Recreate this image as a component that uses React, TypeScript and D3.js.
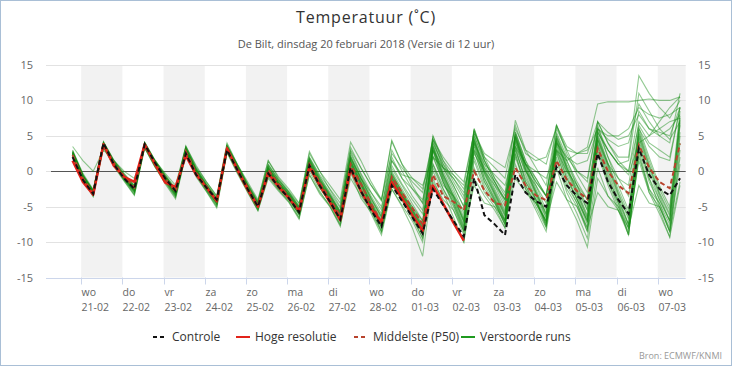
import React, { useRef, useEffect } from "react";
import * as d3 from "d3";

// x-axis labels, one per day starting 21-02
const weekdays = ["wo", "do", "vr", "za", "zo", "ma", "di", "wo", "do", "vr", "za", "zo", "ma", "di", "wo"];
const dates = ["21-02", "22-02", "23-02", "24-02", "25-02", "26-02", "27-02", "28-02", "01-03", "02-03", "03-03", "04-03", "05-03", "06-03", "07-03"];
const yTicks = [-15, -10, -5, 0, 5, 10, 15];

// hours after 21-02 00:00, every 6 hours from 20-02 19:00 up to 07-03 13:00
const hours = d3.range(60).map((i) => -5 + i * 6);

const control = [2.0, -1.2, -3.2, 4.0, 1.0, -1.0, -2.5, 3.8, 1.2, -1.0, -2.8, 2.5, -0.5, -2.3, -4.0, 3.0, 0.2, -2.5, -5.0, -0.3, -2.2, -3.8, -5.8, 0.8, -2.0, -4.3, -6.8, 0.5, -2.8, -5.5, -7.8, -2.0, -4.2, -6.5, -8.8, -2.5, -4.8, -7.0, -9.2, -1.0, -6.2, -7.5, -9.0, -0.5, -3.0, -4.2, -5.0, 0.6, -2.0, -3.5, -4.5, 2.5, -1.5, -4.0, -6.0, 3.2, -0.5, -2.5, -3.4, -1.0];
const hres = [1.5, -1.5, -3.3, 3.8, 0.8, -0.8, -1.5, 3.8, 1.0, -1.6, -2.2, 2.2, -0.5, -2.3, -4.2, 3.2, 0.2, -2.6, -5.0, -0.3, -2.2, -3.8, -5.6, 0.6, -2.0, -4.4, -6.9, 0.3, -2.8, -5.3, -7.2, -1.5, -3.8, -6.2, -8.4, -2.0, -4.6, -7.3, -9.8];
const median = [2.3, -1.0, -3.1, 3.8, 1.2, -0.7, -2.3, 3.7, 1.1, -1.0, -2.9, 2.8, -0.2, -2.2, -4.2, 3.2, 0.4, -2.3, -4.9, 0.2, -1.8, -3.6, -5.6, 1.0, -1.6, -3.9, -6.3, 1.0, -1.8, -4.6, -7.2, -0.8, -3.0, -5.2, -7.5, -0.5, -3.5, -4.3, -5.5, 0.0, -2.7, -4.5, -4.8, 0.5, -2.0, -3.4, -4.1, 1.5, -1.2, -2.8, -3.9, 3.2, 0.0, -2.0, -3.1, 3.7, 0.5, -1.5, -2.4, 3.9];

// perturbed runs
const m01 = [2.5, -0.8, -3.0, 3.8, 1.2, -0.8, -2.5, 3.8, 1.2, -1.0, -3.0, 3.0, 0.0, -2.2, -4.2, 3.3, 0.5, -2.3, -4.8, 0.3, -1.8, -3.5, -5.5, 1.2, -1.5, -3.8, -6.2, 1.5, -1.5, -4.5, -7.2, -0.5, -3.0, -5.5, -8.0, 3.5, -0.5, -3.5, -7.0, 4.5, 0.0, -3.0, -6.0, 5.0, 0.5, -3.0, -6.5, 4.5, 0.5, -3.0, -6.5, 5.0, 1.0, -3.0, -6.5, 5.5, 1.0, -3.0, -6.0, 7.5];
const m02 = [2.9, -0.5, -2.7, 4.1, 1.5, -0.4, -2.0, 4.0, 1.5, -0.6, -2.6, 3.4, 0.4, -1.8, -3.8, 3.6, 0.9, -1.9, -4.4, 0.8, -1.3, -3.0, -5.0, 1.8, -0.8, -3.2, -5.6, 2.2, -0.8, -3.8, -6.5, 0.4, -2.0, -4.6, -7.0, 4.2, 0.5, -2.5, -6.0, 5.2, 1.0, -2.0, -5.0, 5.6, 1.5, -2.0, -5.5, 5.2, 1.5, -2.0, -5.5, 5.8, 2.0, -2.0, -5.5, 6.2, 2.0, -2.0, -5.0, 8.5];
const m03 = [2.1, -1.1, -3.4, 3.5, 0.9, -1.2, -3.0, 3.5, 0.8, -1.4, -3.5, 2.6, -0.4, -2.6, -4.7, 2.9, 0.1, -2.7, -5.3, -0.3, -2.3, -4.0, -6.1, 0.6, -2.2, -4.5, -6.9, 0.8, -2.3, -5.2, -8.0, -1.2, -3.8, -6.3, -8.8, 2.8, -1.5, -4.5, -8.0, 3.8, -1.0, -4.0, -7.0, 4.2, -0.5, -4.0, -7.5, 3.8, -0.5, -4.0, -7.5, 4.4, 0.0, -4.0, -7.5, 4.8, 0.0, -4.0, -7.0, 6.5];
const m04 = [2.7, -0.6, -2.9, 3.9, 1.3, -0.7, -2.3, 3.9, 1.4, -0.8, -2.8, 3.2, 0.2, -2.0, -4.0, 3.5, 0.7, -2.0, -4.5, 0.5, -1.5, -3.2, -5.2, 1.5, -1.2, -3.5, -5.8, 2.0, -1.0, -4.0, -6.5, 1.5, -1.0, -2.5, -4.0, 3.0, 0.5, -1.0, -3.0, 4.0, 1.0, -0.5, -2.0, 3.5, 1.0, 0.0, -1.0, 3.0, 1.5, 2.5, 3.4, 9.5, 9.8, 9.8, 9.8, 10.0, 10.2, 10.0, 10.0, 10.5];
const m05 = [2.4, -0.9, -3.1, 3.7, 1.1, -0.9, -2.6, 3.7, 1.1, -1.1, -3.1, 2.9, -0.1, -2.3, -4.3, 3.2, 0.4, -2.4, -4.9, 0.2, -1.9, -3.6, -5.6, 1.0, -1.6, -4.0, -6.4, 1.2, -1.8, -4.8, -7.5, -1.0, -3.5, -5.0, -7.0, 1.0, -2.0, -3.5, -5.5, 2.5, 0.0, -2.0, -4.0, 4.0, 1.0, -1.5, -3.5, 5.5, 2.0, 0.0, -1.0, 7.0, 4.0, 2.0, 2.0, 13.5, 11.0, 9.0, 7.5, 10.0];
const m06 = [2.3, -1.0, -3.3, 3.6, 1.0, -1.1, -3.2, 3.4, 0.7, -1.5, -3.6, 2.4, -0.6, -2.8, -5.0, 2.7, -0.1, -2.8, -5.5, -0.6, -2.6, -4.3, -6.6, 0.0, -2.8, -5.0, -7.6, 0.0, -3.2, -6.0, -9.0, -2.5, -5.0, -8.0, -12.0, -1.0, -4.5, -7.0, -10.0, 0.5, -3.0, -5.0, -8.0, 2.0, -2.0, -5.0, -8.0, 1.5, -3.0, -6.0, -9.5, 0.5, -3.5, -5.5, -8.5, 2.0, -2.5, -5.5, -9.3, -2.0];
const m07 = [2.6, -0.7, -2.9, 3.9, 1.2, -0.8, -2.6, 3.8, 1.1, -1.0, -3.1, 3.0, 0.0, -2.2, -4.3, 3.3, 0.4, -2.5, -5.0, 0.0, -2.0, -3.8, -6.0, 0.5, -2.3, -4.3, -7.0, 0.3, -2.8, -5.5, -8.5, -1.5, -4.0, -6.5, -9.5, 1.0, -2.5, -5.0, -8.5, 2.0, -2.0, -4.5, -7.5, 2.5, -2.5, -5.5, -8.5, 0.5, -4.0, -7.0, -10.7, -1.0, -3.5, -5.0, -8.0, 1.5, -3.0, -5.0, -8.0, 2.0];
const m08 = [3.0, -0.3, -2.6, 4.2, 1.6, -0.3, -2.0, 4.1, 1.6, -0.5, -2.4, 3.6, 0.6, -1.5, -3.5, 3.8, 1.0, -1.5, -4.0, 1.5, -0.8, -2.5, -4.5, 2.5, 0.0, -2.0, -4.0, 4.1, 1.5, -1.5, -4.0, 4.4, 1.0, -2.0, -4.5, 5.0, 1.5, -1.5, -4.0, 6.0, 2.0, -1.0, -3.5, 7.2, 3.0, 0.5, -2.0, 6.5, 3.0, 0.0, -1.5, 7.0, 4.0, 1.5, 0.0, 8.5, 6.0, 5.0, 4.0, 11.0];
const m09 = [2.0, -1.3, -3.6, 3.4, 0.7, -1.4, -3.4, 3.3, 0.6, -1.8, -3.9, 2.3, -0.8, -2.9, -5.2, 2.6, -0.3, -3.0, -5.6, -1.0, -2.8, -4.4, -6.8, -0.5, -3.2, -5.0, -7.8, -0.2, -3.8, -5.8, -8.6, -2.5, -4.8, -7.0, -10.0, 0.5, -2.5, -5.5, -9.0, 1.5, -2.5, -4.5, -7.5, 3.0, -1.0, -4.0, -7.5, 2.5, -1.5, -4.5, -8.0, 3.0, -1.5, -4.5, -9.0, 3.5, -1.5, -4.5, -8.5, 5.0];
const m10 = [2.6, -0.7, -2.8, 3.9, 1.3, -0.7, -2.4, 3.9, 1.3, -0.9, -2.9, 3.1, 0.1, -2.1, -4.1, 3.4, 0.6, -2.2, -4.7, 0.5, -1.6, -3.3, -5.3, 1.5, -1.2, -3.5, -6.0, 1.8, -1.2, -4.2, -6.8, 0.0, -2.5, -5.0, -7.5, 3.8, 0.0, -3.0, -6.5, 4.8, 0.5, -2.5, -5.5, 5.3, 1.0, -2.5, -6.0, 5.0, 1.0, -2.0, -5.0, 6.0, 3.0, 1.0, 0.0, 6.5, 4.0, 3.0, 2.0, 9.0];
const m11 = [2.8, -0.6, -2.8, 4.0, 1.4, -0.6, -2.2, 4.0, 1.4, -0.7, -2.7, 3.3, 0.3, -1.9, -3.9, 3.5, 0.8, -2.0, -4.5, 1.0, -1.2, -3.0, -5.0, 2.0, -0.5, -2.5, -4.5, 3.0, 0.5, -2.0, -4.0, 2.5, 0.5, -1.5, -3.0, 4.5, 2.0, 0.0, -1.5, 5.5, 2.0, 0.5, -1.0, 6.5, 2.5, 1.5, 2.0, 6.0, 3.0, 2.5, 3.0, 6.0, 5.0, 5.0, 6.0, 9.0, 8.0, 7.5, 8.0, 9.0];
const m12 = [2.2, -1.1, -3.2, 3.6, 1.0, -1.0, -2.8, 3.6, 1.0, -1.2, -3.2, 2.8, -0.2, -2.4, -4.4, 3.1, 0.3, -2.6, -5.1, 0.0, -2.0, -3.8, -5.9, 0.8, -1.9, -4.2, -6.6, 1.0, -2.0, -4.9, -7.6, -0.8, -3.4, -5.8, -8.5, 3.0, -1.2, -4.2, -7.8, 3.5, -1.0, -3.8, -7.0, 3.5, -1.5, -4.0, -7.8, 2.8, -2.0, -4.5, -8.5, 3.5, -1.5, -5.0, -9.0, 3.0, -2.5, -4.5, -7.5, 4.0];
const m13 = [2.4, -0.9, -3.0, 3.8, 1.1, -0.9, -2.7, 3.7, 1.1, -1.1, -3.0, 3.0, 0.0, -2.2, -4.2, 3.2, 0.4, -2.3, -4.8, 0.3, -1.7, -3.4, -5.4, 1.3, -1.4, -3.6, -6.0, 1.8, -1.0, -3.0, -5.0, 1.5, -0.5, -1.0, -2.0, 2.0, 0.5, -0.5, -2.5, 3.0, 0.5, -1.5, -4.0, 3.5, 0.0, -2.0, -4.5, 3.0, 0.0, -2.0, -4.0, 4.5, 1.0, -1.0, -2.0, 7.0, 5.0, 6.0, 7.0, 7.5];
const m14 = [2.5, -0.8, -3.1, 3.8, 1.2, -0.9, -2.5, 3.8, 1.2, -1.0, -3.0, 3.1, 0.0, -2.2, -4.2, 3.4, 0.5, -2.3, -4.9, 0.2, -1.9, -3.5, -5.6, 1.1, -1.6, -3.9, -6.3, 1.4, -1.6, -4.6, -7.3, -0.2, -3.0, -5.4, -7.8, 3.6, -0.4, -3.4, -6.8, 4.6, 0.2, -2.8, -5.8, 5.2, 0.8, -2.8, -6.2, 4.7, 0.7, -2.8, -6.2, 5.3, 1.2, -2.6, -6.0, 5.8, 1.5, -2.5, -5.5, 7.8];
const m15 = [2.6, -0.8, -2.9, 3.9, 1.3, -0.8, -2.4, 3.9, 1.3, -0.9, -2.9, 3.0, 0.1, -2.1, -4.1, 3.3, 0.6, -2.2, -4.7, 0.4, -1.7, -3.4, -5.4, 1.3, -1.4, -3.7, -6.1, 1.6, -1.4, -4.4, -7.0, -0.4, -2.8, -5.3, -7.7, 3.4, -0.6, -3.6, -7.1, 4.4, -0.2, -3.2, -6.2, 4.8, 0.3, -3.2, -6.7, 4.3, 0.3, -3.2, -6.7, 4.8, 0.8, -3.2, -6.8, 5.3, 0.8, -3.2, -6.3, 7.2];
const m16 = [2.3, -1.0, -3.2, 3.7, 1.0, -1.0, -2.8, 3.6, 1.0, -1.2, -3.2, 2.8, -0.2, -2.4, -4.5, 3.1, 0.2, -2.5, -5.0, 0.0, -2.0, -3.7, -5.8, 0.9, -1.8, -4.0, -6.6, 1.2, -1.8, -4.8, -7.6, -0.8, -3.3, -5.8, -8.4, 3.0, -1.0, -4.0, -7.6, 4.0, -0.5, -3.5, -6.8, 4.5, 0.0, -3.5, -7.2, 4.0, 0.0, -3.5, -7.2, 4.5, 0.5, -3.5, -7.5, 5.0, 0.5, -3.5, -7.0, 6.8];
const m17 = [2.4, -0.9, -3.1, 3.7, 1.1, -1.0, -2.7, 3.7, 1.0, -1.2, -3.3, 2.7, -0.3, -2.5, -4.6, 3.0, 0.2, -2.6, -5.2, -0.2, -2.2, -3.9, -6.2, 0.4, -2.4, -4.4, -7.2, 0.2, -2.8, -5.3, -8.4, -1.8, -4.2, -6.6, -9.4, 0.0, -3.0, -6.5, -10.0, -1.0, -3.5, -5.5, -8.0, 1.0, -2.5, -4.5, -7.0, 3.0, -1.0, -4.0, -7.0, 4.0, -0.5, -4.5, -8.0, 4.5, -1.0, -5.0, -8.5, 1.0];
const m18 = [2.7, -0.6, -2.8, 4.0, 1.4, -0.6, -2.2, 4.0, 1.4, -0.8, -2.8, 3.2, 0.2, -2.0, -4.0, 3.5, 0.7, -2.1, -4.6, 0.6, -1.5, -3.2, -5.2, 1.6, -1.0, -3.4, -5.8, 2.5, -0.5, -3.5, -6.0, 2.0, -1.0, -3.5, -5.5, 5.0, 1.0, -2.0, -5.0, 5.8, 1.5, -1.5, -4.0, 5.5, 1.5, -1.0, -3.5, 6.5, 2.5, -0.5, -3.0, 5.5, 3.0, 1.0, -0.5, 4.0, 5.0, 7.0, 9.0, 10.5];
const m19 = [2.1, -1.2, -3.5, 3.4, 0.8, -1.3, -3.3, 3.3, 0.6, -1.6, -3.7, 2.5, -0.6, -2.7, -4.9, 2.8, -0.1, -2.9, -5.5, -0.8, -2.6, -4.2, -6.5, -0.5, -3.0, -4.8, -7.5, -1.0, -3.5, -5.0, -7.5, -2.0, -4.0, -5.5, -8.0, -1.5, -4.0, -5.5, -8.5, -2.0, -4.5, -5.0, -7.0, -1.0, -3.0, -4.5, -7.0, -1.5, -4.0, -5.0, -8.0, -3.0, -5.0, -5.5, -8.0, -2.0, -4.5, -5.0, -8.5, -1.5];
const m20 = [2.8, -0.5, -2.7, 4.1, 1.5, -0.5, -2.1, 4.1, 1.5, -0.6, -2.6, 3.4, 0.4, -1.8, -3.8, 3.6, 0.9, -1.8, -4.3, 0.9, -1.2, -2.9, -4.9, 1.9, -0.7, -3.0, -5.2, 2.8, -0.3, -3.0, -5.5, 3.0, 0.0, -2.5, -4.5, 4.0, 1.0, -1.0, -3.5, 5.0, 1.5, -1.0, -3.0, 4.5, 1.0, -1.5, -3.5, 4.0, 2.0, 1.0, 1.5, 6.0, 4.5, 3.5, 4.0, 9.5, 7.0, 5.0, 6.0, 8.0];
const m21 = [2.3, -1.0, -3.3, 3.6, 0.9, -1.1, -2.9, 3.5, 0.9, -1.3, -3.4, 2.7, -0.4, -2.5, -4.6, 3.0, 0.2, -2.6, -5.2, -0.1, -2.2, -3.9, -6.1, 0.5, -2.2, -4.3, -6.9, 0.6, -2.5, -5.0, -7.8, -1.0, -3.5, -6.0, -8.8, 2.0, -1.5, -4.5, -8.2, 2.8, -1.5, -4.2, -7.5, 2.5, -2.0, -4.5, -7.8, 2.0, -2.5, -5.0, -8.5, 2.5, -2.0, -5.5, -9.0, 2.5, -3.0, -6.0, -9.3, 3.0];
const m22 = [2.6, -0.7, -2.9, 3.9, 1.3, -0.7, -2.3, 3.9, 1.3, -0.9, -2.8, 3.1, 0.1, -2.1, -4.1, 3.4, 0.6, -2.1, -4.6, 0.6, -1.6, -3.2, -5.2, 1.7, -1.1, -3.3, -5.7, 2.0, -1.0, -3.8, -6.3, 0.8, -1.8, -4.0, -6.0, 4.5, 0.5, -2.0, -5.0, 6.0, 1.5, -1.5, -4.5, 5.0, 1.0, -1.0, -3.5, 4.8, 1.5, -1.5, -4.0, 6.5, 2.0, -1.0, -3.5, 6.0, 3.5, 2.0, 1.5, 9.0];
const m23 = [2.5, -0.8, -3.0, 3.8, 1.2, -0.8, -2.5, 3.8, 1.2, -1.0, -3.0, 3.0, 0.0, -2.2, -4.2, 3.2, 0.4, -2.4, -4.9, 0.1, -1.9, -3.6, -5.7, 1.0, -1.7, -4.0, -6.4, 1.3, -1.7, -4.7, -7.4, -0.6, -3.2, -5.6, -8.2, 3.2, -0.8, -3.8, -7.2, 4.2, -0.3, -3.2, -6.4, 4.8, 0.2, -3.0, -6.0, 4.2, 0.5, -2.5, -5.5, 5.5, 3.0, 1.0, 1.5, 11.0, 8.5, 6.0, 4.5, 7.0];
const m24 = [2.2, -1.1, -3.3, 3.6, 1.0, -1.1, -2.9, 3.6, 0.9, -1.3, -3.3, 2.8, -0.3, -2.4, -4.5, 3.1, 0.3, -2.5, -5.1, 0.0, -2.1, -3.7, -5.9, 0.8, -1.9, -4.1, -6.7, 1.0, -2.0, -4.9, -7.8, -1.2, -3.6, -6.0, -8.8, 2.2, -1.6, -4.8, -8.4, 3.0, -1.5, -4.2, -7.2, 3.2, -1.5, -4.2, -7.2, 3.5, -1.0, -4.0, -7.0, 3.8, -1.0, -4.2, -7.6, 4.0, -1.0, -4.0, -7.0, 5.5];
const m25 = [3.5, 1.5, 0.0, 3.0, 1.5, 0.0, -1.0, 3.2, 1.5, -0.3, -2.0, 3.5, 0.8, -1.5, -3.5, 4.0, 1.0, -1.8, -4.2, 1.5, -1.0, -2.8, -4.6, 2.8, 0.0, -2.6, -5.0, 3.4, 0.5, -2.0, -4.2, 4.2, 1.0, -1.0, -2.5, 4.5, 1.5, -0.5, -2.0, 5.5, 2.5, 1.5, 0.5, 6.0, 3.0, 2.0, 1.0, 6.5, 3.5, 2.5, 2.5, 7.0, 5.5, 4.5, 5.0, 8.0, 6.0, 5.5, 5.0, 9.0];
const members = [m01, m02, m03, m04, m05, m06, m07, m08, m09, m10, m11, m12, m13, m14, m15, m16, m17, m18, m19, m20, m21, m22, m23, m24, m25];

const font = "'Open Sans', 'DejaVu Sans', sans-serif";

const App = () => {
  const svgRef = useRef<SVGSVGElement>(null);

  useEffect(() => {
    const width = 732;
    const height = 366;
    const left = 46;
    const right = 685.7;
    const top = 65;
    const bottom = 277.5;

    const svg = d3.select(svgRef.current).attr("width", width).attr("height", height);
    svg.selectAll("*").remove();

    svg.append("rect").attr("x", 0.5).attr("y", 0.5).attr("width", width - 1).attr("height", height - 1)
      .attr("fill", "#fff").attr("stroke", "#a9bfd6");

    const x = d3.scaleLinear().domain([-20.5, 352.3]).range([left, right]);
    const y = d3.scaleLinear().domain([-15, 15]).range([bottom, top]);

    // alternating day bands
    svg.append("g").selectAll("rect")
      .data(dates.filter((_, i) => i % 2 === 0).map((_, k) => k * 48))
      .enter().append("rect")
      .attr("x", (d) => x(d))
      .attr("width", (d) => Math.min(x(d + 24), right) - x(d))
      .attr("y", top)
      .attr("height", bottom - top)
      .attr("fill", "#f2f2f2");

    // grid
    svg.append("g").selectAll("line").data(yTicks).enter().append("line")
      .attr("x1", left).attr("x2", right)
      .attr("y1", (d) => Math.round(y(d)) + 0.5).attr("y2", (d) => Math.round(y(d)) + 0.5)
      .attr("stroke", (d) => (d === -15 ? "#ccd6eb" : "#e2e2e2"));

    const labelStyle = (sel: any) => sel.attr("font-family", font).attr("font-size", 11).attr("fill", "#666");

    svg.append("g").selectAll("text").data(yTicks).enter().append("text")
      .attr("x", 33).attr("y", (d) => y(d) + 4).attr("text-anchor", "end")
      .text((d) => d).call(labelStyle);
    svg.append("g").selectAll("text").data(yTicks).enter().append("text")
      .attr("x", 698).attr("y", (d) => y(d) + 4)
      .text((d) => d).call(labelStyle);

    // x ticks and two-line labels
    const xg = svg.append("g");
    dates.forEach((date, i) => {
      const xp = Math.round(x(i * 24)) + 0.5;
      xg.append("line").attr("x1", xp).attr("x2", xp).attr("y1", bottom).attr("y2", bottom + 7).attr("stroke", "#ccd6eb");
      xg.append("text").attr("x", xp).attr("y", 296).text(weekdays[i]).call(labelStyle).attr("font-size", 10.5);
      xg.append("text").attr("x", xp).attr("y", 310.5).text(date).call(labelStyle).attr("font-size", 10.5);
    });

    // zero line
    svg.append("line").attr("x1", 51).attr("x2", right)
      .attr("y1", Math.round(y(0)) + 0.5).attr("y2", Math.round(y(0)) + 0.5)
      .attr("stroke", "#555").attr("stroke-width", 1);

    const line = d3.line<number>().x((_, i) => x(hours[i])).y((d) => y(d));

    svg.append("g").selectAll("path").data(members).enter().append("path")
      .attr("d", (d) => line(d))
      .attr("fill", "none").attr("stroke", "#138c13").attr("stroke-opacity", 0.46).attr("stroke-width", 1.1);

    svg.append("path").attr("d", line(median)).attr("fill", "none")
      .attr("stroke", "#b8432d").attr("stroke-width", 2).attr("stroke-dasharray", "5,3");
    svg.append("path").attr("d", line(hres)).attr("fill", "none")
      .attr("stroke", "#e2231a").attr("stroke-width", 2.5).attr("stroke-linejoin", "round");
    svg.append("path").attr("d", line(control)).attr("fill", "none")
      .attr("stroke", "#111").attr("stroke-width", 2).attr("stroke-dasharray", "5,3");

    // titles
    svg.append("text").attr("x", 366).attr("y", 23).attr("text-anchor", "middle")
      .attr("font-family", font).attr("font-size", 16).attr("letter-spacing", 0.8).attr("fill", "#333")
      .text("Temperatuur (˚C)");
    svg.append("text").attr("x", 366).attr("y", 48).attr("text-anchor", "middle")
      .attr("font-family", font).attr("font-size", 11).attr("fill", "#555")
      .text("De Bilt, dinsdag 20 februari 2018 (Versie di 12 uur)");

    // legend
    const legend = [
      { label: "Controle", color: "#111", dash: "4,3", x: 153 },
      { label: "Hoge resolutie", color: "#e2231a", dash: null, x: 236 },
      { label: "Middelste (P50)", color: "#b8432d", dash: "4,3", x: 354 },
      { label: "Verstoorde runs", color: "#1f9a1f", dash: null, x: 461 },
    ];
    const lg = svg.append("g");
    legend.forEach((item) => {
      lg.append("line").attr("x1", item.x).attr("x2", item.x + 14).attr("y1", 337).attr("y2", 337)
        .attr("stroke", item.color).attr("stroke-width", 2).attr("stroke-dasharray", item.dash);
      lg.append("text").attr("x", item.x + 19).attr("y", 341).text(item.label)
        .attr("font-family", font).attr("font-size", 12).attr("fill", "#333");
    });

    svg.append("text").attr("x", 722).attr("y", 359).attr("text-anchor", "end")
      .attr("font-family", font).attr("font-size", 9).attr("fill", "#999")
      .text("Bron: ECMWF/KNMI");
  }, []);

  return (
    <div style={{ position: "absolute", left: 0, top: 0 }}>
      <svg ref={svgRef} style={{ display: "block" }}></svg>
    </div>
  );
};

export default App;
